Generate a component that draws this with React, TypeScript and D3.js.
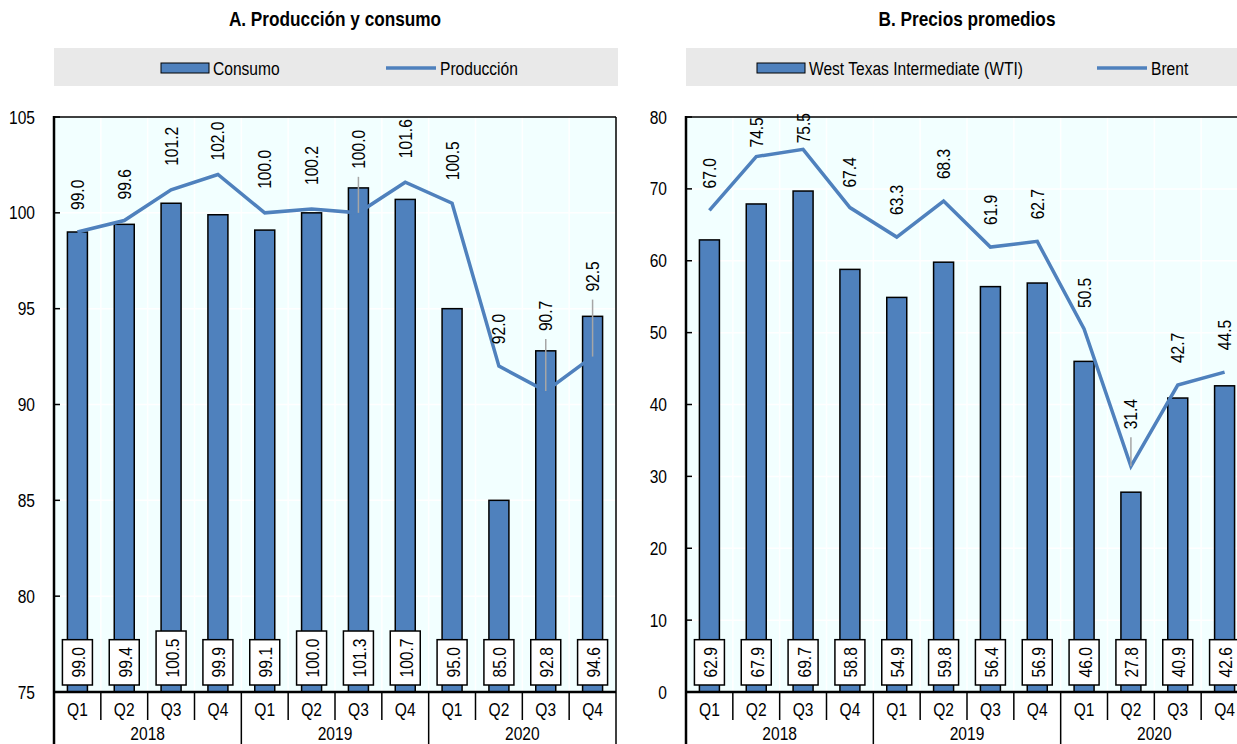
import React from 'react';
import * as d3 from 'd3';

const quarters = ['Q1', 'Q2', 'Q3', 'Q4', 'Q1', 'Q2', 'Q3', 'Q4', 'Q1', 'Q2', 'Q3', 'Q4'];
const years = ['2018', '2019', '2020'];

const consumo = [99.0, 99.4, 100.5, 99.9, 99.1, 100.0, 101.3, 100.7, 95.0, 85.0, 92.8, 94.6];
const produccion = [99.0, 99.6, 101.2, 102.0, 100.0, 100.2, 100.0, 101.6, 100.5, 92.0, 90.7, 92.5];
const wti = [62.9, 67.9, 69.7, 58.8, 54.9, 59.8, 56.4, 56.9, 46.0, 27.8, 40.9, 42.6];
const brent = [67.0, 74.5, 75.5, 67.4, 63.3, 68.3, 61.9, 62.7, 50.5, 31.4, 42.7, 44.5];

const ticksA = [75, 80, 85, 90, 95, 100, 105];
const ticksB = [0, 10, 20, 30, 40, 50, 60, 70, 80];

// label placement (px gap above point); leaders drawn where flagged
const gapsA = [22, 21, 24, 14, 24, 24, 44, 24, 23, 22, 60, 65];
const leadersA = [6, 10, 11];
const gapsB = [22, 9, 6, 20, 22, 22, 22, 22, 21, 37, 22, 22];
const leadersB = [9];

const FONT = "'Liberation Sans', Arial, sans-serif";
const NARROW = 0.82;
const BLUE = '#4F81BD';
const FS = 19;

type TProps = {
  x: number;
  y: number;
  rot?: number;
  anchor?: 'start' | 'middle' | 'end';
  baseline?: string;
  size?: number;
  weight?: string;
  children: React.ReactNode;
};

function T({ x, y, rot, anchor = 'start', baseline, size = FS, weight, children }: TProps) {
  const tf = `translate(${x},${y})${rot ? ` rotate(${rot})` : ''} scale(${NARROW},1)`;
  return (
    <text
      transform={tf}
      textAnchor={anchor}
      dominantBaseline={baseline as any}
      fontSize={size}
      fontWeight={weight}
      fontFamily={FONT}
      fill="#000"
    >
      {children}
    </text>
  );
}

type PanelProps = {
  left: number;
  title: string;
  barName: string;
  lineName: string;
  bars: number[];
  line: number[];
  domain: [number, number];
  ticks: number[];
  gaps: number[];
  leaders: number[];
  swatchX: number;
  lineX: number;
};

function Panel(p: PanelProps) {
  const top = 117;
  const bottom = 692;
  const width = 562;
  const right = p.left + width;
  const x = d3.scaleBand<string>().domain(d3.range(12).map(String)).range([p.left, right]);
  const bw = x.bandwidth();
  const cx = (i: number) => (x(String(i)) as number) + bw / 2;
  const y = d3.scaleLinear().domain(p.domain).range([bottom, top]);
  const lineGen = d3.line<number>().x((_, i) => cx(i)).y((d) => y(d));
  const barW = 20;
  const boxH = (s: string) => 15 + FS * NARROW * (0.556 * s.replace('.', '').length + 0.278);

  return (
    <g>
      <T x={p.left + width / 2} y={26} anchor="middle" weight="bold" size={21}>
        {p.title}
      </T>
      <rect x={p.left} y={48} width={width + 2} height={38} fill="#E9E9E9" />
      <rect x={p.swatchX} y={63} width={48} height={10} fill={BLUE} stroke="#000" strokeWidth={1} />
      <T x={p.swatchX + 52} y={75}>{p.barName}</T>
      <line x1={p.lineX} x2={p.lineX + 50} y1={68} y2={68} stroke={BLUE} strokeWidth={3.5} />
      <T x={p.lineX + 54} y={75}>{p.lineName}</T>

      <rect x={p.left} y={top} width={width} height={bottom - top} fill="#F2FFFF" />
      {p.ticks.slice(1, -1).map((t) => (
        <line key={'g' + t} x1={p.left} x2={right} y1={y(t)} y2={y(t)} stroke="#fff" strokeWidth={1.5} />
      ))}
      {d3.range(1, 12).map((i) => (
        <line key={'v' + i} x1={x(String(i))} x2={x(String(i))} y1={top} y2={bottom} stroke="#fff" strokeWidth={1.5} />
      ))}

      {p.bars.map((v, i) => (
        <rect key={'b' + i} x={cx(i) - barW / 2} y={y(v)} width={barW} height={bottom - y(v)} fill={BLUE} stroke="#000" strokeWidth={1.5} />
      ))}

      <path d={lineGen(p.line) || ''} fill="none" stroke={BLUE} strokeWidth={3.5} />

      {p.line.map((v, i) => {
        const py = y(v);
        const ty = py - p.gaps[i];
        return (
          <g key={'l' + i}>
            {p.leaders.includes(i) && (
              <line x1={cx(i)} x2={cx(i)} y1={ty + 8} y2={py} stroke="#A6A6A6" strokeWidth={1.5} />
            )}
            <T x={cx(i)} y={ty} rot={-90} anchor="start" baseline="central">
              {v.toFixed(1)}
            </T>
          </g>
        );
      })}

      {p.bars.map((v, i) => {
        const s = v.toFixed(1);
        const h = boxH(s);
        const b = bottom - 7;
        return (
          <g key={'bx' + i}>
            <rect x={cx(i) - 15} y={b - h} width={30} height={h} fill="#fff" stroke="#000" strokeWidth={1.5} />
            <T x={cx(i) + 1} y={b - h / 2} rot={-90} anchor="middle" baseline="central">
              {s}
            </T>
          </g>
        );
      })}

      <line x1={p.left} x2={right} y1={top} y2={top} stroke="#000" strokeWidth={1.5} />
      <line x1={right} x2={right} y1={top} y2={744} stroke="#000" strokeWidth={1.5} />
      <line x1={p.left} x2={p.left} y1={top - 1} y2={744} stroke="#000" strokeWidth={2.5} />
      <line x1={p.left} x2={right} y1={bottom} y2={bottom} stroke="#000" strokeWidth={2.5} />

      {p.ticks.map((t) => (
        <g key={'t' + t}>
          <line x1={p.left} x2={p.left + 6} y1={y(t)} y2={y(t)} stroke="#000" strokeWidth={1.5} />
          <T x={p.left - 19} y={y(t)} anchor="end" baseline="central">
            {t}
          </T>
        </g>
      ))}

      {d3.range(1, 12).map((i) => (
        <line key={'s' + i} x1={x(String(i))} x2={x(String(i))} y1={bottom} y2={i % 4 === 0 ? 744 : 720} stroke="#000" strokeWidth={1.5} />
      ))}
      {quarters.map((q, i) => (
        <T key={'q' + i} x={cx(i)} y={716} anchor="middle">{q}</T>
      ))}
      {years.map((yr, j) => (
        <T key={'y' + j} x={(cx(j * 4) + cx(j * 4 + 3)) / 2} y={740} anchor="middle">{yr}</T>
      ))}
    </g>
  );
}

export default function App() {
  return (
    <svg width={1237} height={744} style={{ position: 'absolute', left: 0, top: 0, background: '#fff' }}>
      <Panel
        left={54}
        title="A. Producción y consumo"
        barName="Consumo"
        lineName="Producción"
        bars={consumo}
        line={produccion}
        domain={[75, 105]}
        ticks={ticksA}
        gaps={gapsA}
        leaders={leadersA}
        swatchX={161}
        lineX={386}
      />
      <Panel
        left={686}
        title="B. Precios promedios"
        barName="West Texas Intermediate (WTI)"
        lineName="Brent"
        bars={wti}
        line={brent}
        domain={[0, 80]}
        ticks={ticksB}
        gaps={gapsB}
        leaders={leadersB}
        swatchX={757}
        lineX={1097}
      />
    </svg>
  );
}
